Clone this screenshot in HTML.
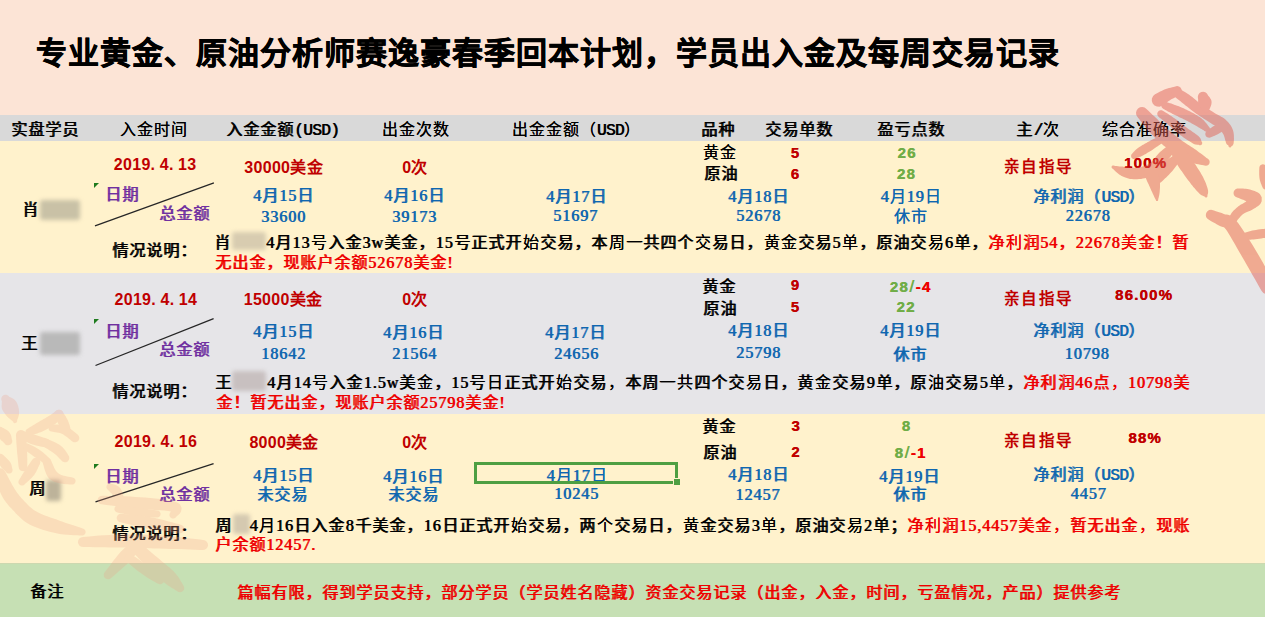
<!DOCTYPE html>
<html lang="zh-CN"><head><meta charset="utf-8"><title>学员出入金及每周交易记录</title>
<style>
*{margin:0;padding:0;box-sizing:border-box}
html,body{width:1265px;height:617px;overflow:hidden;background:#FFF2CC}
body{position:relative;font-family:"Liberation Serif",serif}
.bg{position:absolute;left:0;width:1265px}
.t,.title,.s,.s2,.z,.wm{position:absolute;white-space:nowrap}
.t{font-family:"Liberation Serif",serif;font-size:16px;line-height:16px;font-weight:normal;letter-spacing:1px;text-shadow:0.75px 0 0 currentColor}
.nw{font-weight:normal}
.title{font-family:"Liberation Sans",sans-serif;font-size:31px;line-height:31px;letter-spacing:1px;font-weight:bold;color:#000;-webkit-text-stroke:0.6px #000}
.s{font-family:"Liberation Sans",sans-serif;font-size:15px;line-height:15px;font-weight:bold;letter-spacing:1.2px;text-shadow:0.4px 0 0 currentColor}
.s2{font-family:"Liberation Sans",sans-serif;font-size:16px;line-height:16px;font-weight:bold;letter-spacing:0.3px}
.d{letter-spacing:4.7px}
.u2{font-size:17px;font-weight:normal;letter-spacing:1.5px;margin-left:0.5px}
.u{font-family:"Liberation Mono",monospace;font-size:16px;letter-spacing:-0.6px}
.z{font-family:"Liberation Sans",sans-serif;font-size:15.5px;line-height:15.5px;font-weight:bold;letter-spacing:1.5px}
.blur{position:absolute;filter:blur(2.2px);border-radius:3px}
.mk{position:absolute;width:0;height:0;border-top:5px solid #1E7B1E;border-right:5px solid transparent}
.ln{position:absolute;left:0;top:0}
.sel{position:absolute;left:474px;top:462px;width:204px;height:22px;border:3px solid #4E9F42}
.selh{position:absolute;left:674px;top:479px;width:6px;height:6px;background:#4E9F42;outline:1px solid #FFF2CC}
.wm{position:absolute;pointer-events:none}
</style></head>
<body>

<div class="bg" style="top:0;height:115px;background:#FCE4D6"></div>
<div class="bg" style="top:115px;height:26px;background:#D9D9D9"></div>
<div class="bg" style="top:141px;height:132px;background:#FFF2CC"></div>
<div class="bg" style="top:273px;height:141px;background:#E6E5E8"></div>
<div class="bg" style="top:414px;height:149px;background:#FFF2CC"></div>
<div class="bg" style="top:563px;height:54px;background:#C6E0B4"></div>
<div class="bg" style="top:563px;height:1px;background:#CDD8B0"></div>

<div id="e0" class="title" style="top:37.8px;color:#000;left:36px;">专业黄金、原油分析师赛逸豪春季回本计划，学员出入金及每周交易记录</div>
<div id="e1" class="t" style="top:122.0px;color:#000;left:11.2px;">实盘学员</div>
<div id="e2" class="t" style="top:122px;color:#000;left:93.5px;width:120px;text-align:center;">入金时间</div>
<div id="e3" class="t" style="top:122px;color:#000;left:212.5px;width:140px;text-align:center;">入金金额<span class="u">(USD)</span></div>
<div id="e4" class="t" style="top:122.0px;color:#000;left:355.5px;width:120px;text-align:center;">出金次数</div>
<div id="e5" class="t" style="top:122.0px;color:#000;left:511.7px;">出金金额（<span class="u">USD</span>）</div>
<div id="e6" class="t" style="top:122px;color:#000;left:701px;">品种</div>
<div id="e7" class="t" style="top:122px;color:#000;left:748.8px;width:100px;text-align:center;">交易单数</div>
<div id="e8" class="t" style="top:122px;color:#000;left:861.0px;width:100px;text-align:center;">盈亏点数</div>
<div id="e9" class="t" style="top:122px;color:#000;left:988.0px;width:100px;text-align:center;">主<span class="u">/</span>次</div>
<div id="e10" class="t" style="top:122px;color:#000;left:1084.0px;width:120px;text-align:center;">综合准确率</div>
<div id="e11" class="t" style="top:201.5px;color:#000;left:22px;">肖</div>
<div class="blur" style="left:40px;top:200px;width:40px;height:20px;background:#C9C1A6"></div>
<div class="blur" style="left:232px;top:232px;width:34px;height:18px;background:#D8CCB0"></div>
<div id="e14" class="s2" style="top:157.0px;color:#C00000;left:113.8px;">2019<span class="d">.</span>4<span class="d">.</span>13</div>
<div id="e15" class="s2" style="top:159.6px;color:#C00000;left:223.6px;width:120px;text-align:center;">30000美金</div>
<div id="e16" class="s2" style="top:159.6px;color:#C00000;left:375.0px;width:80px;text-align:center;">0次</div>
<div id="e17" class="t" style="top:144.5px;color:#000;left:702.6px;">黄金</div>
<div id="e18" class="t" style="top:165.5px;color:#000;left:703.8px;">原油</div>
<div id="e19" class="s" style="top:144.8px;color:#C00000;left:780.5px;width:30px;text-align:center;">5</div>
<div id="e20" class="s" style="top:166.3px;color:#C00000;left:780.5px;width:30px;text-align:center;">6</div>
<div id="e21" class="s" style="top:144.5px;color:#70AD47;left:867.0px;width:80px;text-align:center;">26</div>
<div id="e22" class="s" style="top:165.5px;color:#70AD47;left:866.4px;width:80px;text-align:center;">28</div>
<div id="e23" class="z" style="top:158.5px;color:#C00000;left:988.5px;width:100px;text-align:center;">亲自指导</div>
<div id="e24" class="s" style="top:154.5px;color:#C00000;left:1095.5px;width:100px;text-align:center;">100%</div>
<div class="mk" style="left:94px;top:183px"></div>
<div id="e26" class="t" style="top:186.5px;color:#7030A0;left:105.4px;">日期</div>
<div id="e27" class="t" style="top:205.5px;color:#7030A0;left:159.2px;">总金额</div>
<svg class="ln" width="1265" height="617"><line x1="95" y1="225.8" x2="213.9" y2="182.8" stroke="#262626" stroke-width="1.3"/></svg>
<div id="e29" class="t" style="top:187.9px;color:#0F67B0;left:213.5px;width:140px;text-align:center;">4月15日</div>
<div id="e30" class="t" style="top:208.5px;color:#0F67B0;left:213.5px;width:140px;text-align:center;">33600</div>
<div id="e31" class="t" style="top:187.9px;color:#0F67B0;left:344.6px;width:140px;text-align:center;">4月16日</div>
<div id="e32" class="t" style="top:208.5px;color:#0F67B0;left:344.5px;width:140px;text-align:center;">39173</div>
<div id="e33" class="t" style="top:188.5px;color:#0F67B0;left:506.6px;width:140px;text-align:center;">4月17日</div>
<div id="e34" class="t" style="top:207.5px;color:#0F67B0;left:505.6px;width:140px;text-align:center;">51697</div>
<div id="e35" class="t" style="top:188.5px;color:#0F67B0;left:688.6px;width:140px;text-align:center;">4月18日</div>
<div id="e36" class="t" style="top:207.5px;color:#0F67B0;left:688.5px;width:140px;text-align:center;">52678</div>
<div id="e37" class="t" style="top:188.5px;color:#0F67B0;left:841.0px;width:140px;text-align:center;">4月19日</div>
<div id="e38" class="t" style="top:209.0px;color:#0F67B0;left:840.5px;width:140px;text-align:center;">休市</div>
<div id="e39" class="t" style="top:188.5px;color:#0F67B0;left:1019.2px;width:140px;text-align:center;">净利润（<span class="u">USD</span>）</div>
<div id="e40" class="t" style="top:207.5px;color:#0F67B0;left:1018.0px;width:140px;text-align:center;">22678</div>
<div id="e41" class="t" style="top:243px;color:#000;left:112px;">情况说明：</div>
<div id="e42" class="t" style="top:234.5px;color:#000;left:214.3px;width:975px;text-align:justify;text-align-last:justify;">肖　　4月13号入金3w美金，15号正式开始交易，本周一共四个交易日，黄金交易5单，原油交易6单，<span style="color:#EE0000">净利润54，22678美金！暂</span></div>
<div id="e43" class="t" style="top:254.5px;color:#EE0000;left:215.0px;">无出金，现账户余额52678美金!</div>
<div id="e44" class="t nw" style="top:336.4px;color:#000;left:21px;">王</div>
<div class="blur" style="left:40px;top:332px;width:40px;height:23px;background:#B9B9B9"></div>
<div class="blur" style="left:232px;top:371px;width:34px;height:20px;background:#C8C0C0"></div>
<div id="e47" class="s2" style="top:292px;color:#C00000;left:114.5px;">2019<span class="d">.</span>4<span class="d">.</span>14</div>
<div id="e48" class="s2" style="top:292.2px;color:#C00000;left:223.0px;width:120px;text-align:center;">15000美金</div>
<div id="e49" class="s2" style="top:292.2px;color:#C00000;left:375.0px;width:80px;text-align:center;">0次</div>
<div id="e50" class="t" style="top:278.5px;color:#000;left:702.4px;">黄金</div>
<div id="e51" class="t" style="top:300.5px;color:#000;left:703.2px;">原油</div>
<div id="e52" class="s" style="top:276.9px;color:#C00000;left:780.5px;width:30px;text-align:center;">9</div>
<div id="e53" class="s" style="top:299.3px;color:#C00000;left:780.5px;width:30px;text-align:center;">5</div>
<div id="e54" class="s" style="top:279.3px;color:#70AD47;left:870.5px;width:80px;text-align:center;">28<span class="u2">/</span><span style="color:#EE0000">-4</span></div>
<div id="e55" class="s" style="top:299.3px;color:#70AD47;left:866.0px;width:80px;text-align:center;">22</div>
<div id="e56" class="z" style="top:291.3px;color:#C00000;left:988.5px;width:100px;text-align:center;">亲自指导</div>
<div id="e57" class="s" style="top:287.3px;color:#C00000;left:1094.0px;width:100px;text-align:center;">86.00%</div>
<div class="mk" style="left:94px;top:318.5px"></div>
<div id="e59" class="t" style="top:323.5px;color:#7030A0;left:105.4px;">日期</div>
<div id="e60" class="t" style="top:341.5px;color:#7030A0;left:159.0px;">总金额</div>
<svg class="ln" width="1265" height="617"><line x1="95.5" y1="365.5" x2="213.6" y2="318.7" stroke="#262626" stroke-width="1.3"/></svg>
<div id="e62" class="t" style="top:323.9px;color:#0F67B0;left:213.5px;width:140px;text-align:center;">4月15日</div>
<div id="e63" class="t" style="top:346px;color:#0F67B0;left:213.5px;width:140px;text-align:center;">18642</div>
<div id="e64" class="t" style="top:324.5px;color:#0F67B0;left:343.5px;width:140px;text-align:center;">4月16日</div>
<div id="e65" class="t" style="top:346px;color:#0F67B0;left:344.5px;width:140px;text-align:center;">21564</div>
<div id="e66" class="t" style="top:324.5px;color:#0F67B0;left:505.5px;width:140px;text-align:center;">4月17日</div>
<div id="e67" class="t" style="top:346px;color:#0F67B0;left:506.5px;width:140px;text-align:center;">24656</div>
<div id="e68" class="t" style="top:322.9px;color:#0F67B0;left:688.5px;width:140px;text-align:center;">4月18日</div>
<div id="e69" class="t" style="top:345.3px;color:#0F67B0;left:688.5px;width:140px;text-align:center;">25798</div>
<div id="e70" class="t" style="top:322.9px;color:#0F67B0;left:840.6px;width:140px;text-align:center;">4月19日</div>
<div id="e71" class="t" style="top:347.0px;color:#0F67B0;left:839.9px;width:140px;text-align:center;">休市</div>
<div id="e72" class="t" style="top:322.9px;color:#0F67B0;left:1019.0px;width:140px;text-align:center;">净利润（<span class="u">USD</span>）</div>
<div id="e73" class="t" style="top:346px;color:#0F67B0;left:1017.1px;width:140px;text-align:center;">10798</div>
<div id="e74" class="t" style="top:383.5px;color:#000;left:112px;">情况说明：</div>
<div id="e75" class="t" style="top:374.5px;color:#000;left:215.1px;width:975px;text-align:justify;text-align-last:justify;">王　　4月14号入金1.5w美金，15号日正式开始交易，本周一共四个交易日，黄金交易9单，原油交易5单，<span style="color:#EE0000">净利润46点，10798美</span></div>
<div id="e76" class="t" style="top:394.5px;color:#EE0000;left:216px;">金！暂无出金，现账户余额25798美金!</div>
<div id="e77" class="t" style="top:481.4px;color:#000;left:29.0px;">周</div>
<div class="blur" style="left:46px;top:480px;width:15px;height:21px;background:#BDB39A"></div>
<div class="blur" style="left:233px;top:514px;width:17px;height:20px;background:#D5C9B0"></div>
<div id="e80" class="s2" style="top:433.5px;color:#C00000;left:114.5px;">2019<span class="d">.</span>4<span class="d">.</span>16</div>
<div id="e81" class="s2" style="top:434.5px;color:#C00000;left:224.1px;width:120px;text-align:center;">8000美金</div>
<div id="e82" class="s2" style="top:434.5px;color:#C00000;left:375.0px;width:80px;text-align:center;">0次</div>
<div id="e83" class="t" style="top:418.5px;color:#000;left:702.4px;">黄金</div>
<div id="e84" class="t" style="top:445px;color:#000;left:703.2px;">原油</div>
<div id="e85" class="s" style="top:417.5px;color:#C00000;left:781.1px;width:30px;text-align:center;">3</div>
<div id="e86" class="s" style="top:443.5px;color:#C00000;left:781.0px;width:30px;text-align:center;">2</div>
<div id="e87" class="s" style="top:417.5px;color:#70AD47;left:866.5px;width:80px;text-align:center;">8</div>
<div id="e88" class="s" style="top:444.5px;color:#70AD47;left:870.5px;width:80px;text-align:center;">8<span class="u2">/</span><span style="color:#EE0000">-1</span></div>
<div id="e89" class="z" style="top:433px;color:#C00000;left:988.5px;width:100px;text-align:center;">亲自指导</div>
<div id="e90" class="s" style="top:430.3px;color:#C00000;left:1095.1px;width:100px;text-align:center;">88%</div>
<div class="mk" style="left:94px;top:464px"></div>
<div id="e92" class="t" style="top:468.5px;color:#7030A0;left:105.4px;">日期</div>
<div id="e93" class="t" style="top:486.5px;color:#7030A0;left:159.0px;">总金额</div>
<svg class="ln" width="1265" height="617"><line x1="95.5" y1="501.9" x2="213.6" y2="463.7" stroke="#262626" stroke-width="1.3"/></svg>
<div id="e95" class="t" style="top:467.9px;color:#0F67B0;left:213.5px;width:140px;text-align:center;">4月15日</div>
<div id="e96" class="t" style="top:487.3px;color:#0F67B0;left:212.8px;width:140px;text-align:center;">未交易</div>
<div id="e97" class="t" style="top:468.5px;color:#0F67B0;left:343.5px;width:140px;text-align:center;">4月16日</div>
<div id="e98" class="t" style="top:487.3px;color:#0F67B0;left:343.6px;width:140px;text-align:center;">未交易</div>
<div id="e99" class="t" style="top:468.3px;color:#0F67B0;left:507.0px;width:140px;text-align:center;">4月17日</div>
<div id="e100" class="t" style="top:486.1px;color:#0F67B0;left:506.5px;width:140px;text-align:center;">10245</div>
<div id="e101" class="t" style="top:467.0px;color:#0F67B0;left:688.5px;width:140px;text-align:center;">4月18日</div>
<div id="e102" class="t" style="top:486.5px;color:#0F67B0;left:687.7px;width:140px;text-align:center;">12457</div>
<div id="e103" class="t" style="top:468.5px;color:#0F67B0;left:839.5px;width:140px;text-align:center;">4月19日</div>
<div id="e104" class="t" style="top:486.9px;color:#0F67B0;left:839.9px;width:140px;text-align:center;">休市</div>
<div id="e105" class="t" style="top:466.8px;color:#0F67B0;left:1019.0px;width:140px;text-align:center;">净利润（<span class="u">USD</span>）</div>
<div id="e106" class="t" style="top:485.5px;color:#0F67B0;left:1018.6px;width:140px;text-align:center;">4457</div>
<div id="e107" class="t" style="top:525.5px;color:#000;left:112px;">情况说明：</div>
<div id="e108" class="t" style="top:517.5px;color:#000;left:215.0px;width:975px;text-align:justify;text-align-last:justify;">周　4月16日入金8千美金，16日正式开始交易，两个交易日，黄金交易3单，原油交易2单；<span style="color:#EE0000">净利润15,4457美金，暂无出金，现账</span></div>
<div id="e109" class="t" style="top:537px;color:#EE0000;left:215.0px;">户余额12457.</div>
<div class="sel"></div><div class="selh"></div>
<div id="e111" class="t" style="top:584px;color:#000;left:29.9px;">备注</div>
<div id="e112" class="t" style="top:584.5px;color:#EE0000;left:237px;">篇幅有限，得到学员支持，部分学员（学员姓名隐藏）资金交易记录（出金，入金，时间，亏盈情况，产品）提供参考</div>
<svg class="wm" style="left:0;top:0" width="1265" height="617" viewBox="0 0 1265 617"><g opacity="0.5" fill="rgb(225,98,86)"><path d="M1162.0,105.8 L1162.7,105.3 L1163.5,104.7 L1164.5,104.0 L1165.5,103.2 L1166.6,102.5 L1167.7,101.7 L1168.7,101.0 L1169.6,100.4 L1170.6,99.8 L1171.8,99.1 L1173.1,98.4 L1174.5,97.7 L1175.8,97.1 L1177.0,96.5 L1178.0,95.9 L1178.8,95.5 L1180.4,94.5 L1181.5,93.0 L1181.9,91.1 L1181.5,89.2 L1180.5,87.6 L1179.0,86.5 L1177.1,86.1 L1175.2,86.5 L1174.5,86.7 L1173.4,86.9 L1172.1,87.3 L1170.6,87.7 L1169.0,88.1 L1167.4,88.6 L1165.9,89.1 L1164.4,89.6 L1162.9,90.2 L1161.5,90.9 L1160.1,91.6 L1158.8,92.3 L1157.5,92.9 L1156.5,93.5 L1155.6,93.9 L1155.0,94.2 L1153.1,96.0 L1151.9,98.4 L1151.8,101.0 L1152.7,103.5 L1154.5,105.4 L1156.9,106.6 L1159.5,106.7Z"/><path d="M1173.4,95.7 L1174.2,96.3 L1175.1,97.0 L1176.2,97.9 L1177.5,98.9 L1178.8,100.0 L1180.2,101.1 L1181.5,102.2 L1182.8,103.2 L1184.1,104.2 L1185.5,105.4 L1187.0,106.5 L1188.5,107.8 L1190.0,109.0 L1191.6,110.3 L1193.3,111.5 L1194.9,112.8 L1196.6,113.9 L1198.3,115.1 L1200.0,116.2 L1201.7,117.3 L1203.4,118.4 L1205.1,119.4 L1206.7,120.4 L1208.2,121.4 L1209.8,122.5 L1211.3,123.4 L1212.8,124.4 L1214.2,125.2 L1215.4,126.1 L1216.5,126.8 L1217.5,127.6 L1218.3,128.3 L1219.1,129.0 L1219.9,129.7 L1220.5,130.4 L1221.1,131.1 L1221.7,131.8 L1222.2,132.5 L1222.7,133.2 L1223.1,134.0 L1223.6,134.8 L1224.0,135.8 L1224.4,137.1 L1224.8,138.5 L1225.2,139.9 L1225.6,141.2 L1225.9,142.5 L1226.3,143.5 L1226.6,144.1 L1227.0,144.5 L1227.3,144.8 L1227.6,144.9 L1227.9,145.1 L1228.2,145.3 L1228.3,145.6 L1228.5,145.9 L1228.6,146.5 L1228.9,147.0 L1229.3,147.3 L1229.9,147.5 L1230.5,147.4 L1231.0,147.1 L1231.3,146.7 L1231.5,146.1 L1231.7,146.0 L1231.9,146.0 L1232.3,145.8 L1232.6,145.4 L1233.0,144.9 L1233.3,144.2 L1233.6,143.4 L1233.7,142.5 L1233.8,141.5 L1233.9,140.3 L1234.0,138.8 L1233.9,137.2 L1233.9,135.4 L1233.7,133.6 L1233.4,131.8 L1232.9,130.0 L1232.3,128.5 L1231.6,127.1 L1230.9,125.7 L1230.0,124.4 L1229.0,123.2 L1228.0,122.0 L1226.9,120.9 L1225.7,119.7 L1224.3,118.6 L1222.8,117.6 L1221.2,116.7 L1219.7,115.8 L1218.2,115.0 L1216.7,114.2 L1215.3,113.4 L1213.8,112.6 L1212.3,111.6 L1210.7,110.6 L1209.0,109.6 L1207.4,108.5 L1205.7,107.4 L1204.1,106.4 L1202.6,105.3 L1201.1,104.2 L1199.6,103.2 L1198.1,102.0 L1196.7,100.8 L1195.2,99.6 L1193.7,98.3 L1192.2,97.1 L1190.7,95.9 L1189.2,94.8 L1187.6,93.8 L1186.1,92.8 L1184.5,91.8 L1183.0,90.9 L1181.6,90.1 L1180.4,89.4 L1179.3,88.8 L1178.6,88.3 L1176.9,87.6 L1175.2,87.6 L1173.6,88.2 L1172.3,89.4 L1171.6,91.1 L1171.6,92.8 L1172.2,94.4Z"/><path d="M1210.9,137.2 L1211.5,137.0 L1212.2,136.7 L1213.1,136.3 L1214.1,135.9 L1215.1,135.4 L1216.2,134.9 L1217.2,134.4 L1218.1,134.0 L1219.1,133.4 L1220.1,132.8 L1221.2,132.2 L1222.3,131.5 L1223.3,130.8 L1224.3,130.2 L1225.1,129.7 L1225.7,129.4 L1226.8,128.5 L1227.6,127.2 L1227.7,125.8 L1227.4,124.3 L1226.5,123.2 L1225.2,122.4 L1223.8,122.3 L1222.3,122.6 L1221.7,122.9 L1220.8,123.2 L1219.8,123.6 L1218.6,124.0 L1217.4,124.5 L1216.1,125.0 L1215.0,125.5 L1213.9,126.0 L1212.9,126.6 L1211.9,127.3 L1210.9,127.9 L1209.9,128.6 L1209.0,129.3 L1208.3,129.9 L1207.6,130.4 L1207.1,130.8 L1206.0,131.7 L1205.4,133.0 L1205.3,134.5 L1205.8,135.9 L1206.7,137.0 L1208.0,137.6 L1209.5,137.7Z"/><path d="M1198.0,98.7 L1198.1,99.3 L1198.1,100.0 L1198.1,100.8 L1198.1,101.7 L1198.1,102.6 L1198.2,103.4 L1198.3,104.1 L1198.5,104.7 L1198.7,105.2 L1199.1,105.8 L1199.6,106.4 L1200.2,107.0 L1200.7,107.6 L1201.3,108.2 L1201.8,108.8 L1202.3,109.3 L1202.7,109.8 L1203.1,110.3 L1203.6,110.8 L1204.0,111.3 L1204.4,111.8 L1204.7,112.3 L1205.0,112.7 L1205.3,113.0 L1205.3,113.3 L1205.5,113.5 L1205.7,113.7 L1206.0,113.7 L1206.3,113.7 L1206.5,113.5 L1206.7,113.3 L1206.7,113.0 L1207.0,112.7 L1207.3,112.4 L1207.7,111.9 L1208.1,111.4 L1208.6,110.8 L1209.0,110.2 L1209.4,109.4 L1209.7,108.7 L1210.1,107.9 L1210.4,107.0 L1210.8,106.2 L1211.1,105.2 L1211.4,104.3 L1211.5,103.3 L1211.6,102.3 L1211.5,101.3 L1211.3,100.3 L1210.9,99.3 L1210.3,98.4 L1209.8,97.6 L1209.2,96.8 L1208.7,96.2 L1208.2,95.7 L1208.0,95.3 L1206.9,93.5 L1205.3,92.3 L1203.3,91.8 L1201.3,92.0 L1199.5,93.1 L1198.3,94.7 L1197.8,96.7Z"/><path d="M1163.5,108.9 L1164.1,109.3 L1164.9,109.7 L1165.8,110.2 L1166.8,110.8 L1167.9,111.4 L1169.0,112.0 L1170.1,112.6 L1171.2,113.1 L1172.2,113.7 L1173.3,114.2 L1174.4,114.7 L1175.5,115.2 L1176.6,115.8 L1177.7,116.3 L1178.8,116.9 L1179.9,117.4 L1181.1,118.0 L1182.4,118.6 L1183.6,119.2 L1184.9,119.8 L1186.1,120.5 L1187.4,121.1 L1188.5,121.7 L1189.6,122.3 L1190.7,122.8 L1191.7,123.4 L1192.7,124.0 L1193.7,124.5 L1194.6,125.0 L1195.5,125.6 L1196.4,126.1 L1197.3,126.6 L1198.3,127.2 L1199.3,127.8 L1200.4,128.4 L1201.5,129.1 L1202.6,129.8 L1203.6,130.3 L1204.4,130.9 L1205.0,131.3 L1206.0,131.8 L1207.2,132.0 L1208.3,131.7 L1209.3,131.0 L1209.8,130.0 L1210.0,128.8 L1209.7,127.7 L1209.0,126.7 L1208.5,126.2 L1208.0,125.5 L1207.3,124.5 L1206.5,123.5 L1205.6,122.4 L1204.7,121.4 L1203.7,120.3 L1202.7,119.4 L1201.7,118.6 L1200.7,117.8 L1199.7,117.1 L1198.7,116.4 L1197.7,115.7 L1196.6,115.0 L1195.5,114.4 L1194.4,113.7 L1193.1,113.1 L1191.9,112.4 L1190.6,111.7 L1189.2,111.0 L1187.9,110.4 L1186.6,109.8 L1185.3,109.2 L1184.1,108.6 L1182.9,108.0 L1181.6,107.5 L1180.4,107.0 L1179.3,106.6 L1178.1,106.1 L1177.0,105.7 L1175.9,105.3 L1174.8,104.9 L1173.7,104.5 L1172.5,104.0 L1171.3,103.6 L1170.1,103.2 L1169.0,102.9 L1168.0,102.5 L1167.1,102.3 L1166.5,102.1 L1165.1,101.8 L1163.6,102.0 L1162.4,102.8 L1161.6,104.0 L1161.3,105.4 L1161.5,106.9 L1162.3,108.1Z"/><path d="M1137.5,117.0 L1138.2,117.9 L1139.1,119.1 L1140.2,120.6 L1141.5,122.2 L1142.8,123.9 L1144.1,125.6 L1145.5,127.3 L1146.8,128.9 L1148.1,130.3 L1149.3,131.7 L1150.6,133.2 L1151.9,134.6 L1153.3,136.1 L1154.8,137.6 L1156.4,139.1 L1158.0,140.6 L1159.8,142.2 L1161.6,143.8 L1163.5,145.4 L1165.5,147.0 L1167.5,148.6 L1169.6,150.2 L1171.6,151.7 L1173.7,153.1 L1175.8,154.5 L1177.8,155.8 L1179.9,157.0 L1181.9,158.2 L1183.9,159.2 L1185.9,160.2 L1187.9,161.1 L1189.8,162.0 L1191.9,162.7 L1194.1,163.3 L1196.2,163.9 L1198.3,164.3 L1200.3,164.7 L1202.0,165.0 L1203.4,165.2 L1204.5,165.4 L1205.9,165.7 L1207.3,165.5 L1208.6,164.7 L1209.4,163.5 L1209.7,162.1 L1209.5,160.7 L1208.7,159.4 L1207.5,158.6 L1206.6,157.9 L1205.4,157.0 L1204.1,156.0 L1202.6,154.8 L1200.9,153.6 L1199.3,152.4 L1197.7,151.2 L1196.2,150.0 L1194.6,148.9 L1192.9,147.8 L1191.1,146.7 L1189.3,145.6 L1187.6,144.4 L1185.8,143.3 L1184.0,142.1 L1182.3,140.9 L1180.5,139.6 L1178.7,138.2 L1176.9,136.7 L1175.0,135.2 L1173.1,133.7 L1171.3,132.2 L1169.6,130.8 L1168.0,129.4 L1166.5,128.1 L1165.1,126.8 L1163.8,125.5 L1162.5,124.3 L1161.2,123.0 L1159.9,121.7 L1158.5,120.4 L1157.2,119.1 L1155.8,117.8 L1154.3,116.3 L1152.7,114.9 L1151.2,113.4 L1149.7,112.1 L1148.4,110.8 L1147.3,109.8 L1146.5,109.0 L1144.6,107.6 L1142.3,107.0 L1140.0,107.3 L1138.0,108.5 L1136.6,110.4 L1136.0,112.7 L1136.3,115.0Z"/><path d="M1158.8,117.0 L1159.6,117.7 L1160.7,118.6 L1162.0,119.6 L1163.4,120.8 L1164.9,122.0 L1166.4,123.2 L1167.9,124.4 L1169.2,125.6 L1170.5,126.6 L1171.7,127.7 L1173.0,128.9 L1174.3,130.1 L1175.6,131.3 L1177.0,132.5 L1178.5,133.7 L1180.1,134.9 L1181.7,136.1 L1183.5,137.4 L1185.4,138.7 L1187.2,139.9 L1189.0,141.1 L1190.7,142.1 L1192.2,143.0 L1193.4,143.7 L1194.5,144.2 L1195.3,144.5 L1196.1,144.6 L1196.8,144.7 L1197.3,144.7 L1197.8,144.7 L1198.2,144.7 L1198.6,144.8 L1199.4,145.2 L1200.3,145.2 L1201.1,145.0 L1201.8,144.4 L1202.2,143.6 L1202.2,142.7 L1202.0,141.9 L1201.4,141.2 L1201.3,140.9 L1201.2,140.5 L1201.1,140.0 L1200.9,139.4 L1200.6,138.7 L1200.1,138.0 L1199.5,137.2 L1198.6,136.3 L1197.4,135.3 L1196.0,134.2 L1194.4,133.1 L1192.7,131.9 L1190.9,130.6 L1189.1,129.4 L1187.4,128.2 L1185.9,127.1 L1184.5,126.0 L1183.2,125.0 L1181.8,123.9 L1180.4,122.8 L1179.1,121.7 L1177.7,120.6 L1176.2,119.5 L1174.8,118.4 L1173.2,117.4 L1171.6,116.3 L1169.9,115.2 L1168.2,114.1 L1166.6,113.1 L1165.2,112.2 L1164.1,111.5 L1163.2,111.0 L1161.9,110.3 L1160.4,110.3 L1159.0,110.8 L1158.0,111.8 L1157.3,113.1 L1157.3,114.6 L1157.8,116.0Z"/><path d="M1158.1,136.8 L1157.3,137.2 L1156.2,137.7 L1154.9,138.4 L1153.5,139.1 L1152.0,139.8 L1150.5,140.6 L1149.0,141.4 L1147.7,142.1 L1146.4,142.9 L1145.1,143.6 L1143.7,144.4 L1142.4,145.1 L1141.1,145.9 L1139.8,146.7 L1138.7,147.4 L1137.6,148.2 L1136.7,148.9 L1135.8,149.7 L1135.0,150.5 L1134.3,151.3 L1133.6,152.0 L1133.1,152.6 L1132.7,153.1 L1132.3,153.5 L1131.5,154.3 L1131.1,155.4 L1131.1,156.6 L1131.5,157.7 L1132.3,158.5 L1133.4,158.9 L1134.6,158.9 L1135.7,158.5 L1136.2,158.3 L1136.9,158.1 L1137.6,157.8 L1138.5,157.5 L1139.4,157.1 L1140.4,156.7 L1141.4,156.3 L1142.4,155.8 L1143.4,155.2 L1144.6,154.6 L1145.8,153.9 L1147.1,153.1 L1148.4,152.3 L1149.8,151.5 L1151.1,150.7 L1152.3,149.9 L1153.6,149.0 L1155.0,148.1 L1156.4,147.1 L1157.7,146.2 L1159.0,145.2 L1160.2,144.4 L1161.2,143.7 L1161.9,143.2 L1163.0,142.2 L1163.6,140.9 L1163.7,139.4 L1163.2,138.1 L1162.2,137.0 L1160.9,136.4 L1159.4,136.3Z"/><path d="M1112.4,168.4 L1112.9,168.9 L1113.7,169.6 L1114.6,170.5 L1115.6,171.5 L1116.8,172.5 L1118.0,173.5 L1119.2,174.5 L1120.5,175.2 L1121.6,175.9 L1122.8,176.5 L1124.0,177.1 L1125.3,177.6 L1126.8,178.1 L1128.3,178.5 L1130.0,178.9 L1131.7,179.1 L1133.5,179.2 L1135.4,179.3 L1137.2,179.2 L1139.2,179.1 L1141.1,178.9 L1143.0,178.6 L1144.8,178.2 L1146.6,177.8 L1148.3,177.3 L1149.8,176.8 L1151.4,176.2 L1153.0,175.5 L1154.5,174.7 L1156.0,173.8 L1157.4,172.7 L1158.9,171.6 L1160.4,170.1 L1161.7,168.6 L1162.9,167.1 L1163.9,165.6 L1164.8,164.2 L1165.7,162.9 L1166.5,161.7 L1167.2,160.7 L1168.1,159.6 L1169.0,158.4 L1170.0,157.2 L1171.0,156.0 L1172.0,154.8 L1172.8,153.8 L1173.6,152.9 L1174.1,152.2 L1175.1,150.8 L1175.5,149.1 L1175.2,147.3 L1174.2,145.9 L1172.8,144.9 L1171.1,144.5 L1169.3,144.8 L1167.9,145.8 L1167.2,146.3 L1166.3,147.0 L1165.2,147.8 L1164.0,148.8 L1162.7,149.8 L1161.3,150.9 L1160.0,152.1 L1158.8,153.3 L1157.5,154.7 L1156.4,156.1 L1155.3,157.4 L1154.3,158.8 L1153.4,160.0 L1152.6,161.0 L1151.8,161.8 L1151.1,162.4 L1150.3,163.0 L1149.4,163.6 L1148.6,164.1 L1147.7,164.6 L1146.7,165.0 L1145.7,165.4 L1144.6,165.8 L1143.4,166.2 L1142.2,166.6 L1140.8,166.9 L1139.3,167.1 L1137.8,167.4 L1136.3,167.6 L1134.9,167.7 L1133.5,167.8 L1132.3,167.9 L1131.2,167.9 L1130.2,167.8 L1129.2,167.7 L1128.2,167.6 L1127.1,167.4 L1126.0,167.2 L1124.7,166.9 L1123.5,166.8 L1122.3,166.6 L1121.0,166.5 L1119.5,166.4 L1118.1,166.2 L1116.7,166.0 L1115.5,165.9 L1114.4,165.7 L1113.6,165.6 L1113.1,165.5 L1112.5,165.6 L1112.0,165.9 L1111.6,166.4 L1111.5,166.9 L1111.6,167.5 L1111.9,168.0Z"/><path d="M1161.9,181.5 L1162.7,180.8 L1163.7,179.8 L1164.9,178.6 L1166.2,177.4 L1167.6,176.0 L1168.9,174.7 L1170.2,173.3 L1171.4,172.1 L1172.4,170.9 L1173.5,169.5 L1174.7,168.1 L1175.8,166.6 L1176.8,165.3 L1177.8,164.0 L1178.6,163.0 L1179.2,162.2 L1180.1,160.7 L1180.5,159.0 L1180.2,157.3 L1179.2,155.8 L1177.7,154.9 L1176.0,154.5 L1174.3,154.8 L1172.8,155.8 L1172.1,156.4 L1171.0,157.2 L1169.7,158.1 L1168.3,159.1 L1166.9,160.2 L1165.4,161.4 L1163.9,162.6 L1162.6,163.9 L1161.4,165.2 L1160.1,166.7 L1158.9,168.2 L1157.7,169.8 L1156.5,171.2 L1155.5,172.6 L1154.7,173.7 L1154.1,174.5 L1153.0,176.3 L1152.8,178.3 L1153.3,180.3 L1154.5,181.9 L1156.3,183.0 L1158.3,183.2 L1160.3,182.7Z"/><path d="M1144.6,175.2 L1144.9,175.9 L1145.3,176.8 L1145.7,177.9 L1146.2,179.0 L1146.7,180.2 L1147.2,181.4 L1147.7,182.5 L1148.2,183.5 L1148.7,184.6 L1149.2,185.7 L1149.7,186.8 L1150.2,188.0 L1150.8,189.2 L1151.3,190.4 L1151.8,191.5 L1152.3,192.6 L1152.8,193.7 L1153.3,194.7 L1153.8,195.8 L1154.3,196.9 L1154.8,197.9 L1155.2,198.8 L1155.6,199.5 L1155.9,200.1 L1156.0,200.5 L1156.3,200.9 L1156.7,201.1 L1157.1,201.1 L1157.5,201.0 L1157.9,200.7 L1158.1,200.3 L1158.1,199.9 L1158.3,199.2 L1158.4,198.4 L1158.7,197.5 L1158.9,196.4 L1159.2,195.2 L1159.4,193.9 L1159.6,192.7 L1159.7,191.4 L1159.8,190.2 L1159.9,188.9 L1160.0,187.5 L1160.0,186.1 L1160.0,184.7 L1160.0,183.3 L1159.9,181.9 L1159.8,180.5 L1159.6,179.0 L1159.3,177.5 L1158.9,176.1 L1158.5,174.7 L1158.2,173.5 L1157.8,172.4 L1157.6,171.5 L1157.4,170.8 L1156.0,168.5 L1153.9,166.9 L1151.4,166.3 L1148.8,166.6 L1146.5,168.0 L1144.9,170.1 L1144.3,172.6Z"/><path d="M1168.1,147.3 L1168.7,148.4 L1169.4,149.9 L1170.3,151.7 L1171.3,153.7 L1172.4,155.9 L1173.5,158.0 L1174.5,160.0 L1175.6,161.9 L1176.6,163.6 L1177.7,165.3 L1178.7,166.9 L1179.7,168.4 L1180.7,169.9 L1181.8,171.3 L1182.8,172.7 L1183.8,174.2 L1184.8,175.7 L1185.9,177.2 L1187.0,178.7 L1188.1,180.2 L1189.2,181.6 L1190.3,183.0 L1191.3,184.4 L1192.3,185.6 L1193.3,186.9 L1194.4,188.1 L1195.4,189.3 L1196.4,190.5 L1197.4,191.5 L1198.4,192.6 L1199.3,193.5 L1200.1,194.2 L1200.8,194.8 L1201.5,195.2 L1202.2,195.6 L1202.8,195.8 L1203.3,196.1 L1203.9,196.3 L1204.3,196.5 L1204.6,196.6 L1205.0,197.1 L1205.5,197.4 L1206.1,197.5 L1206.6,197.4 L1207.1,197.0 L1207.4,196.5 L1207.5,195.9 L1207.4,195.4 L1207.5,195.0 L1207.6,194.6 L1207.8,194.1 L1208.0,193.4 L1208.1,192.7 L1208.1,191.8 L1208.1,190.8 L1207.9,189.8 L1207.6,188.6 L1207.3,187.4 L1206.8,186.0 L1206.3,184.5 L1205.8,183.0 L1205.1,181.5 L1204.4,179.9 L1203.7,178.4 L1202.9,176.8 L1202.0,175.2 L1201.1,173.7 L1200.2,172.1 L1199.2,170.5 L1198.2,168.9 L1197.2,167.4 L1196.2,165.8 L1195.2,164.3 L1194.2,162.8 L1193.3,161.3 L1192.3,159.9 L1191.3,158.4 L1190.3,157.0 L1189.4,155.5 L1188.4,154.1 L1187.3,152.5 L1186.2,150.6 L1184.9,148.7 L1183.7,146.8 L1182.5,144.9 L1181.5,143.2 L1180.6,141.8 L1179.9,140.7 L1178.2,138.7 L1175.8,137.5 L1173.2,137.3 L1170.7,138.1 L1168.7,139.8 L1167.5,142.2 L1167.3,144.8Z"/><path d="M1259.3,168.3 L1259.3,169.1 L1259.2,170.2 L1259.2,171.4 L1259.2,172.9 L1259.2,174.4 L1259.3,175.9 L1259.4,177.4 L1259.6,178.7 L1259.8,180.0 L1260.2,181.3 L1260.6,182.6 L1261.0,183.7 L1261.5,184.8 L1261.8,185.7 L1262.2,186.4 L1262.4,187.0 L1263.0,188.3 L1264.1,189.2 L1265.5,189.7 L1267.0,189.6 L1268.3,189.0 L1269.2,187.9 L1269.7,186.5 L1269.6,185.0 L1269.5,184.4 L1269.4,183.5 L1269.2,182.6 L1269.1,181.5 L1268.9,180.4 L1268.8,179.3 L1268.6,178.3 L1268.4,177.3 L1268.3,176.2 L1268.0,174.9 L1267.8,173.5 L1267.5,172.1 L1267.3,170.8 L1267.1,169.5 L1266.9,168.5 L1266.7,167.7 L1266.3,166.3 L1265.4,165.1 L1264.1,164.4 L1262.7,164.3 L1261.3,164.7 L1260.1,165.6 L1259.4,166.9Z"/><path d="M1237.1,197.4 L1237.8,197.7 L1238.7,198.0 L1239.8,198.4 L1240.9,198.9 L1242.1,199.4 L1243.2,199.8 L1244.2,200.3 L1245.2,200.7 L1246.4,201.2 L1247.8,201.7 L1249.1,202.1 L1250.3,202.5 L1251.2,202.8 L1251.7,203.0 L1251.3,202.7 L1250.3,200.8 L1250.3,198.1 L1250.8,197.1 L1250.8,197.1 L1250.4,197.6 L1249.7,198.3 L1248.9,199.1 L1247.9,199.9 L1247.0,200.7 L1246.3,201.3 L1245.5,201.9 L1244.5,202.5 L1243.4,203.2 L1242.2,203.9 L1240.9,204.6 L1239.6,205.5 L1238.4,206.3 L1237.3,207.2 L1236.3,208.0 L1235.4,208.9 L1234.5,209.7 L1233.6,210.6 L1232.8,211.5 L1232.1,212.3 L1231.4,213.3 L1230.7,214.4 L1230.0,215.6 L1229.5,216.8 L1229.0,217.9 L1228.6,219.0 L1228.2,219.9 L1227.9,220.7 L1227.7,221.2 L1227.3,222.6 L1227.4,224.1 L1228.1,225.4 L1229.2,226.3 L1230.6,226.7 L1232.1,226.6 L1233.4,225.9 L1234.3,224.8 L1234.7,224.2 L1235.1,223.5 L1235.7,222.7 L1236.3,221.8 L1236.9,220.9 L1237.5,220.1 L1238.1,219.3 L1238.6,218.7 L1239.2,218.0 L1239.7,217.4 L1240.3,216.7 L1240.9,216.0 L1241.5,215.4 L1242.2,214.8 L1242.9,214.2 L1243.6,213.7 L1244.4,213.2 L1245.3,212.8 L1246.4,212.3 L1247.6,211.8 L1248.9,211.3 L1250.3,210.7 L1251.7,210.1 L1253.0,209.3 L1254.1,208.6 L1255.3,207.9 L1256.5,207.1 L1257.8,206.2 L1259.1,205.2 L1260.5,203.7 L1261.7,201.2 L1261.7,197.2 L1259.9,194.1 L1257.9,192.6 L1256.2,191.7 L1254.6,191.0 L1253.0,190.4 L1251.4,190.0 L1250.0,189.6 L1248.8,189.3 L1247.4,189.0 L1245.9,188.8 L1244.4,188.7 L1243.0,188.6 L1241.6,188.6 L1240.5,188.6 L1239.6,188.6 L1238.9,188.6 L1237.1,188.6 L1235.5,189.2 L1234.3,190.5 L1233.6,192.1 L1233.6,193.9 L1234.2,195.5 L1235.5,196.7Z"/><path d="M1208.9,219.8 L1209.7,220.3 L1210.8,220.9 L1212.1,221.7 L1213.6,222.5 L1215.1,223.3 L1216.6,224.2 L1218.0,225.0 L1219.4,225.8 L1221.1,226.6 L1222.8,227.1 L1223.9,227.3 L1224.2,227.4 L1224.1,227.4 L1224.2,227.5 L1224.7,228.0 L1225.8,229.3 L1227.2,231.3 L1228.9,233.9 L1230.7,236.9 L1232.7,240.4 L1234.8,244.1 L1237.0,247.9 L1239.3,251.9 L1241.5,255.8 L1244.0,260.0 L1246.7,264.8 L1249.6,269.8 L1252.5,274.9 L1255.3,279.8 L1257.8,284.2 L1259.9,287.9 L1261.5,290.7 L1263.4,292.9 L1266.0,294.2 L1268.9,294.4 L1271.7,293.5 L1273.9,291.6 L1275.2,289.0 L1275.4,286.1 L1274.5,283.3 L1273.0,280.5 L1270.9,276.8 L1268.4,272.4 L1265.6,267.5 L1262.7,262.3 L1259.8,257.2 L1257.0,252.4 L1254.5,248.2 L1252.1,244.3 L1249.7,240.4 L1247.3,236.6 L1244.9,232.9 L1242.6,229.4 L1240.4,226.2 L1238.3,223.3 L1236.2,220.7 L1234.3,218.6 L1232.3,216.9 L1230.1,215.6 L1228.1,214.8 L1226.5,214.5 L1225.6,214.4 L1225.2,214.4 L1224.6,214.2 L1223.3,213.7 L1221.7,213.1 L1220.0,212.5 L1218.3,211.9 L1216.7,211.4 L1215.2,210.9 L1214.0,210.5 L1213.1,210.2 L1211.1,209.8 L1209.1,210.1 L1207.4,211.2 L1206.2,212.9 L1205.8,214.9 L1206.1,216.9 L1207.2,218.6Z"/><path d="M1241.5,240.0 L1242.4,239.9 L1243.7,239.9 L1245.1,239.9 L1246.8,239.8 L1248.5,239.8 L1250.3,239.7 L1252.0,239.6 L1253.7,239.4 L1255.4,239.3 L1257.3,239.0 L1259.4,238.7 L1261.4,238.4 L1263.3,238.1 L1265.1,237.9 L1266.5,237.6 L1267.6,237.5 L1269.3,236.9 L1270.6,235.7 L1271.4,234.1 L1271.5,232.4 L1270.9,230.7 L1269.7,229.4 L1268.1,228.6 L1266.4,228.5 L1265.3,228.7 L1263.8,228.9 L1262.1,229.1 L1260.1,229.3 L1258.1,229.6 L1256.0,229.9 L1254.1,230.2 L1252.3,230.6 L1250.6,230.9 L1248.9,231.4 L1247.2,231.9 L1245.5,232.4 L1243.9,232.9 L1242.6,233.4 L1241.4,233.8 L1240.5,234.0 L1239.4,234.5 L1238.6,235.3 L1238.1,236.3 L1238.0,237.5 L1238.5,238.6 L1239.3,239.4 L1240.3,239.9Z"/></g><g opacity="0.25" fill="rgb(238,160,135)"><path d="M1.8,401.2 L1.8,401.9 L1.8,402.7 L1.7,403.7 L1.7,404.7 L1.6,405.7 L1.6,406.8 L1.7,407.7 L1.9,408.6 L2.2,409.5 L2.7,410.5 L3.3,411.6 L4.0,412.6 L4.7,413.6 L5.5,414.6 L6.2,415.5 L6.9,416.3 L7.6,417.0 L8.4,417.7 L9.3,418.4 L10.1,419.1 L11.0,419.9 L11.8,420.5 L12.4,421.1 L12.9,421.6 L13.3,422.3 L13.9,422.9 L14.7,423.2 L15.6,423.1 L16.3,422.7 L16.9,422.1 L17.2,421.3 L17.1,420.4 L17.3,419.8 L17.6,419.1 L18.0,418.1 L18.4,417.0 L18.7,415.8 L19.0,414.4 L19.1,413.1 L19.1,411.7 L19.0,410.4 L18.8,409.0 L18.5,407.6 L18.2,406.3 L17.8,404.9 L17.3,403.7 L16.7,402.5 L16.1,401.4 L15.3,400.4 L14.4,399.5 L13.4,398.8 L12.3,398.2 L11.4,397.7 L10.5,397.3 L9.7,397.0 L9.2,396.8 L8.1,395.5 L6.5,394.8 L4.9,394.7 L3.3,395.3 L2.0,396.4 L1.3,398.0 L1.2,399.6Z"/><path d="M30.5,435.3 L31.3,435.1 L32.5,434.7 L33.9,434.4 L35.5,433.9 L37.2,433.4 L38.9,432.8 L40.7,432.2 L42.3,431.5 L43.9,430.8 L45.5,429.9 L47.2,429.0 L48.9,428.1 L50.5,427.1 L52.0,426.1 L53.5,425.1 L54.9,424.2 L56.2,423.2 L57.4,422.1 L58.5,421.1 L59.4,420.0 L60.3,419.1 L60.9,418.3 L61.5,417.7 L61.9,417.2 L62.9,415.9 L63.3,414.2 L63.1,412.5 L62.2,411.1 L60.9,410.1 L59.2,409.7 L57.5,409.9 L56.1,410.8 L55.5,411.2 L54.8,411.8 L54.0,412.4 L53.1,413.1 L52.1,413.8 L51.1,414.5 L50.1,415.2 L49.1,415.8 L48.0,416.5 L46.6,417.3 L45.2,418.2 L43.6,419.1 L42.1,419.9 L40.5,420.8 L39.1,421.7 L37.7,422.5 L36.3,423.3 L34.9,424.2 L33.4,425.1 L32.0,426.0 L30.6,426.8 L29.4,427.5 L28.3,428.2 L27.5,428.7 L26.4,429.5 L25.6,430.7 L25.4,432.1 L25.7,433.5 L26.5,434.6 L27.7,435.4 L29.1,435.6Z"/><path d="M55.1,415.9 L55.4,416.6 L55.7,417.5 L56.1,418.6 L56.6,419.8 L57.0,421.0 L57.5,422.2 L58.0,423.3 L58.5,424.3 L58.9,425.1 L59.4,426.0 L60.0,426.8 L60.5,427.6 L61.0,428.3 L61.4,429.0 L61.8,429.5 L62.1,429.9 L63.1,431.3 L64.6,432.1 L66.3,432.3 L67.9,431.9 L69.3,430.9 L70.1,429.4 L70.3,427.7 L69.9,426.1 L69.7,425.6 L69.5,424.9 L69.3,424.2 L69.0,423.4 L68.7,422.5 L68.3,421.6 L68.0,420.6 L67.5,419.7 L67.0,418.8 L66.4,417.7 L65.8,416.6 L65.1,415.5 L64.4,414.4 L63.8,413.5 L63.3,412.7 L62.9,412.1 L61.9,410.7 L60.4,409.9 L58.7,409.7 L57.1,410.1 L55.7,411.1 L54.9,412.6 L54.7,414.3Z"/><path d="M51.6,431.6 L52.6,431.8 L53.9,432.0 L55.3,432.2 L56.9,432.5 L58.4,432.8 L59.9,433.1 L61.2,433.6 L62.3,434.0 L63.3,434.6 L64.6,435.4 L66.1,436.4 L67.5,437.6 L68.9,438.7 L70.3,439.8 L71.4,440.7 L72.3,441.4 L73.8,442.2 L75.5,442.3 L77.1,441.8 L78.4,440.7 L79.2,439.2 L79.3,437.5 L78.8,435.9 L77.7,434.6 L76.9,434.0 L75.8,433.1 L74.5,431.9 L73.0,430.7 L71.3,429.4 L69.5,428.1 L67.7,427.0 L65.7,426.0 L63.7,425.3 L61.7,424.9 L59.7,424.7 L57.8,424.5 L56.0,424.5 L54.5,424.5 L53.3,424.4 L52.4,424.4 L51.0,424.5 L49.8,425.1 L48.8,426.2 L48.4,427.6 L48.5,429.0 L49.1,430.2 L50.2,431.2Z"/><path d="M15.9,435.3 L16.0,436.5 L16.1,438.0 L16.2,439.8 L16.3,441.8 L16.5,443.9 L16.6,446.1 L16.8,448.3 L16.9,450.3 L17.1,452.4 L17.4,454.8 L17.6,457.3 L17.9,459.7 L18.1,462.0 L18.3,464.2 L18.5,465.9 L18.7,467.3 L19.1,468.9 L20.1,470.2 L21.6,471.1 L23.3,471.3 L24.9,470.9 L26.2,469.9 L27.1,468.4 L27.3,466.7 L27.3,465.4 L27.3,463.6 L27.3,461.5 L27.3,459.2 L27.2,456.7 L27.2,454.2 L27.1,451.8 L27.1,449.7 L27.0,447.6 L26.8,445.4 L26.7,443.2 L26.5,441.1 L26.4,439.1 L26.3,437.3 L26.1,435.8 L26.1,434.7 L25.5,432.7 L24.3,431.2 L22.6,430.2 L20.7,429.9 L18.7,430.5 L17.2,431.7 L16.2,433.4Z"/><path d="M19.5,439.1 L20.6,439.5 L22.0,440.2 L23.8,440.9 L25.7,441.8 L27.7,442.6 L29.7,443.5 L31.7,444.2 L33.5,444.8 L35.1,445.3 L36.9,445.8 L38.6,446.1 L40.2,446.4 L41.7,446.7 L43.0,446.9 L44.1,447.1 L44.9,447.2 L46.6,447.3 L48.2,446.8 L49.5,445.6 L50.2,444.1 L50.3,442.4 L49.8,440.8 L48.6,439.5 L47.1,438.8 L46.3,438.5 L45.2,438.1 L44.0,437.7 L42.6,437.2 L41.1,436.7 L39.6,436.2 L38.0,435.7 L36.5,435.2 L34.9,434.7 L33.0,434.1 L31.0,433.5 L28.9,432.8 L27.0,432.2 L25.1,431.7 L23.6,431.3 L22.5,430.9 L20.8,430.7 L19.2,431.1 L17.8,432.1 L16.9,433.5 L16.7,435.2 L17.1,436.8 L18.1,438.2Z"/><path d="M43.9,446.8 L44.9,447.4 L46.2,448.2 L47.6,449.1 L49.3,450.2 L50.9,451.2 L52.5,452.3 L53.8,453.2 L54.9,454.0 L55.7,454.7 L56.6,455.5 L57.6,456.4 L58.5,457.4 L59.4,458.4 L60.3,459.3 L61.0,460.1 L61.6,460.7 L62.9,461.8 L64.5,462.3 L66.2,462.2 L67.7,461.4 L68.8,460.1 L69.3,458.5 L69.2,456.8 L68.4,455.3 L68.0,454.7 L67.5,453.8 L66.8,452.7 L66.0,451.5 L65.0,450.1 L63.9,448.7 L62.6,447.3 L61.1,446.0 L59.5,444.8 L57.7,443.8 L55.8,442.8 L53.9,441.8 L52.0,441.0 L50.4,440.3 L49.1,439.7 L48.1,439.2 L46.5,438.7 L44.8,438.8 L43.3,439.6 L42.2,440.9 L41.7,442.5 L41.8,444.2 L42.6,445.7Z"/><path d="M25.1,450.1 L25.9,450.7 L27.0,451.5 L28.3,452.4 L29.8,453.5 L31.3,454.6 L32.8,455.7 L34.2,456.7 L35.5,457.6 L36.7,458.4 L38.0,459.3 L39.4,460.2 L40.7,461.1 L41.9,461.9 L43.0,462.7 L44.0,463.3 L44.7,463.8 L46.0,464.5 L47.4,464.6 L48.8,464.2 L49.8,463.3 L50.5,462.0 L50.6,460.6 L50.2,459.2 L49.3,458.2 L48.6,457.6 L47.8,456.8 L46.8,455.8 L45.7,454.8 L44.5,453.7 L43.2,452.5 L41.8,451.4 L40.5,450.4 L39.0,449.5 L37.4,448.5 L35.8,447.6 L34.1,446.6 L32.5,445.8 L31.0,445.0 L29.8,444.4 L28.9,443.9 L27.6,443.4 L26.2,443.5 L24.9,444.0 L23.9,445.1 L23.4,446.4 L23.5,447.8 L24.0,449.1Z"/><path d="M32.2,459.8 L31.7,460.6 L31.0,461.6 L30.2,462.7 L29.3,464.0 L28.4,465.3 L27.5,466.6 L26.6,467.9 L25.8,469.1 L25.0,470.3 L24.1,471.8 L23.2,473.3 L22.2,474.8 L21.3,476.3 L20.5,477.7 L19.7,478.8 L19.2,479.7 L18.5,481.0 L18.4,482.4 L18.8,483.7 L19.7,484.8 L21.0,485.5 L22.4,485.6 L23.7,485.2 L24.8,484.3 L25.5,483.6 L26.5,482.7 L27.7,481.6 L29.0,480.4 L30.4,479.1 L31.8,477.7 L33.0,476.3 L34.2,474.9 L35.1,473.5 L36.1,471.9 L36.9,470.3 L37.7,468.8 L38.3,467.3 L38.9,466.0 L39.4,465.0 L39.8,464.2 L40.3,462.6 L40.2,460.9 L39.5,459.4 L38.2,458.2 L36.6,457.7 L34.9,457.8 L33.4,458.5Z"/><path d="M42.9,463.5 L43.2,464.5 L43.6,465.8 L44.0,467.5 L44.5,469.3 L45.2,471.3 L45.9,473.3 L46.8,475.2 L47.9,477.0 L49.1,478.4 L50.4,479.6 L51.8,480.5 L53.2,481.3 L54.5,481.9 L55.9,482.3 L57.2,482.7 L58.7,483.1 L60.3,483.5 L62.2,483.8 L64.1,484.1 L66.0,484.2 L67.7,484.3 L69.3,484.4 L70.6,484.5 L71.5,484.6 L72.9,484.5 L74.2,483.9 L75.1,482.8 L75.6,481.5 L75.5,480.1 L74.9,478.8 L73.8,477.9 L72.5,477.4 L71.5,477.2 L70.2,477.0 L68.7,476.7 L67.0,476.4 L65.4,476.1 L63.8,475.7 L62.4,475.3 L61.3,474.9 L60.3,474.4 L59.4,473.9 L58.6,473.4 L58.0,473.0 L57.4,472.5 L57.0,472.0 L56.5,471.5 L56.1,471.0 L55.6,470.3 L54.9,469.1 L54.2,467.7 L53.5,466.0 L52.8,464.4 L52.1,462.9 L51.5,461.5 L51.1,460.5 L50.2,459.0 L48.8,458.0 L47.1,457.7 L45.5,457.9 L44.0,458.8 L43.0,460.2 L42.7,461.9Z"/><path d="M-3.0,434.1 L-2.7,434.6 L-2.3,435.3 L-1.8,436.1 L-1.3,436.9 L-0.7,437.7 L-0.3,438.5 L0.2,439.2 L0.5,439.6 L0.8,440.0 L1.2,440.4 L1.7,440.8 L2.3,441.3 L2.9,441.8 L3.4,442.3 L3.9,442.8 L4.2,443.1 L5.3,444.4 L6.8,445.2 L8.5,445.3 L10.1,444.8 L11.4,443.7 L12.2,442.2 L12.3,440.5 L11.8,438.9 L11.7,438.5 L11.6,437.9 L11.5,437.2 L11.3,436.3 L11.1,435.4 L10.7,434.4 L10.2,433.4 L9.5,432.4 L8.7,431.5 L7.8,430.7 L6.9,430.1 L5.9,429.5 L5.0,428.9 L4.1,428.5 L3.5,428.1 L3.0,427.9 L1.6,427.0 L-0.1,426.7 L-1.7,427.0 L-3.1,428.0 L-4.0,429.4 L-4.3,431.1 L-4.0,432.7Z"/><path d="M-3.3,460.9 L-2.8,461.5 L-2.2,462.3 L-1.6,463.3 L-0.8,464.4 L-0.0,465.4 L0.7,466.5 L1.4,467.4 L1.9,468.0 L2.4,468.6 L2.9,469.1 L3.5,469.6 L4.0,470.1 L4.6,470.6 L5.1,471.0 L5.5,471.4 L5.8,471.8 L6.8,472.9 L8.0,473.5 L9.4,473.6 L10.8,473.2 L11.9,472.2 L12.5,471.0 L12.6,469.6 L12.2,468.2 L12.1,467.8 L12.0,467.3 L11.9,466.6 L11.7,465.8 L11.5,464.9 L11.1,463.9 L10.7,462.9 L10.1,462.0 L9.3,461.0 L8.4,460.0 L7.4,459.0 L6.4,458.0 L5.4,457.1 L4.5,456.3 L3.8,455.6 L3.3,455.1 L1.9,454.1 L0.3,453.7 L-1.4,453.9 L-2.9,454.7 L-3.9,456.1 L-4.3,457.7 L-4.1,459.4Z"/><path d="M-5.3,476.3 L-4.9,477.7 L-4.3,479.7 L-3.5,482.0 L-2.6,484.7 L-1.7,487.5 L-0.6,490.4 L0.5,493.1 L1.7,495.6 L2.9,497.7 L4.1,499.7 L5.4,501.5 L6.8,503.3 L8.2,505.0 L9.6,506.7 L11.2,508.3 L12.7,510.0 L14.3,511.6 L15.9,513.4 L17.7,515.2 L19.6,517.1 L21.7,519.0 L24.0,520.9 L26.6,522.7 L29.5,524.4 L32.6,525.9 L35.8,527.2 L39.2,528.5 L42.6,529.7 L46.1,530.8 L49.6,531.7 L53.0,532.5 L56.3,533.3 L59.7,533.9 L63.4,534.4 L67.0,534.7 L70.6,535.0 L74.0,535.2 L77.0,535.3 L79.4,535.4 L81.3,535.6 L82.7,535.6 L84.0,535.0 L85.0,534.0 L85.6,532.7 L85.6,531.3 L85.0,530.0 L84.0,529.0 L82.7,528.4 L80.9,527.8 L78.5,527.1 L75.6,526.1 L72.5,525.1 L69.2,524.0 L65.9,522.9 L62.7,521.8 L59.7,520.7 L56.7,519.6 L53.6,518.5 L50.4,517.4 L47.2,516.3 L44.2,515.2 L41.3,514.0 L38.7,512.8 L36.5,511.6 L34.6,510.5 L32.8,509.2 L31.1,507.8 L29.5,506.4 L28.0,504.9 L26.4,503.3 L24.8,501.7 L23.3,500.0 L21.8,498.5 L20.6,497.1 L19.4,495.7 L18.4,494.3 L17.3,492.9 L16.3,491.5 L15.3,490.0 L14.3,488.4 L13.2,486.6 L12.0,484.5 L10.7,482.1 L9.4,479.7 L8.2,477.3 L7.0,475.1 L6.1,473.2 L5.3,471.7 L4.1,469.9 L2.2,468.6 L-0.0,468.2 L-2.3,468.7 L-4.1,469.9 L-5.4,471.8 L-5.8,474.0Z"/><path d="M108.1,490.1 L108.6,490.5 L109.1,491.1 L109.8,491.7 L110.4,492.4 L111.1,493.1 L111.7,493.7 L112.1,494.3 L112.4,494.6 L112.7,494.9 L113.3,495.3 L113.9,495.9 L114.6,496.6 L115.3,497.2 L115.9,497.9 L116.5,498.4 L116.9,498.9 L117.9,499.9 L119.2,500.5 L120.6,500.6 L121.9,500.1 L122.9,499.1 L123.5,497.8 L123.6,496.4 L123.1,495.1 L122.9,494.6 L122.7,493.9 L122.5,493.0 L122.2,491.9 L121.7,490.8 L121.2,489.7 L120.5,488.5 L119.6,487.4 L118.5,486.5 L117.3,485.8 L116.2,485.3 L115.1,484.8 L114.0,484.5 L113.1,484.3 L112.4,484.1 L111.9,483.9 L110.6,483.4 L109.2,483.5 L107.9,484.1 L106.9,485.1 L106.4,486.4 L106.5,487.8 L107.1,489.1Z"/><path d="M101.7,504.3 L104.6,504.7 L108.6,505.2 L113.2,505.7 L118.4,506.4 L123.9,507.0 L129.4,507.6 L134.6,508.2 L139.5,508.8 L144.3,509.2 L149.4,509.6 L154.5,510.0 L159.5,510.3 L164.1,510.6 L168.1,511.0 L171.3,511.4 L173.2,511.7 L173.2,511.5 L172.4,509.7 L172.6,508.5 L172.7,508.8 L172.2,509.7 L171.4,510.8 L170.5,512.0 L169.9,513.1 L169.4,514.4 L169.5,515.8 L170.0,517.1 L171.1,518.1 L172.4,518.6 L173.8,518.5 L175.1,518.0 L176.1,516.9 L176.3,516.7 L177.1,516.1 L178.3,515.1 L179.7,513.7 L181.1,511.6 L181.7,508.1 L179.9,504.3 L176.8,502.3 L173.5,501.2 L169.7,500.4 L165.3,499.7 L160.5,499.1 L155.4,498.6 L150.3,498.1 L145.3,497.6 L140.5,497.2 L135.6,496.9 L130.3,496.6 L124.7,496.3 L119.2,496.1 L114.0,496.0 L109.2,495.9 L105.3,495.8 L102.3,495.7 L100.6,495.9 L99.2,496.7 L98.1,498.0 L97.7,499.7 L97.9,501.4 L98.7,502.8 L100.0,503.9Z"/><path d="M117.4,512.6 L119.0,512.9 L121.0,513.3 L123.5,513.8 L126.2,514.4 L129.1,514.9 L132.0,515.5 L134.8,515.9 L137.4,516.3 L140.0,516.6 L142.8,516.8 L145.6,517.0 L148.3,517.2 L150.9,517.3 L153.2,517.4 L155.2,517.5 L156.6,517.6 L158.0,517.5 L159.3,516.8 L160.2,515.7 L160.6,514.4 L160.5,513.0 L159.8,511.7 L158.7,510.8 L157.4,510.4 L155.9,510.2 L154.0,509.9 L151.7,509.6 L149.2,509.2 L146.5,508.8 L143.7,508.4 L141.1,508.0 L138.6,507.7 L136.0,507.4 L133.2,507.0 L130.3,506.7 L127.4,506.4 L124.7,506.1 L122.2,505.8 L120.1,505.6 L118.6,505.4 L117.1,505.5 L115.9,506.1 L114.9,507.1 L114.4,508.4 L114.5,509.9 L115.1,511.1 L116.1,512.1Z"/><path d="M120.3,522.3 L122.5,522.8 L125.4,523.5 L128.9,524.3 L132.8,525.2 L136.9,526.2 L141.0,527.1 L145.1,527.9 L148.9,528.7 L152.8,529.4 L157.0,530.1 L161.4,530.7 L165.8,531.4 L169.9,532.0 L173.6,532.5 L176.8,532.9 L179.1,533.3 L180.8,533.3 L182.4,532.6 L183.6,531.4 L184.3,529.9 L184.3,528.2 L183.6,526.6 L182.4,525.4 L180.9,524.7 L178.6,524.1 L175.5,523.3 L171.9,522.3 L167.8,521.2 L163.6,520.1 L159.2,519.1 L155.0,518.1 L151.1,517.3 L147.1,516.6 L143.0,516.0 L138.7,515.5 L134.5,515.0 L130.5,514.6 L127.0,514.3 L124.0,514.0 L121.7,513.7 L120.0,513.8 L118.5,514.5 L117.3,515.7 L116.7,517.3 L116.8,519.0 L117.5,520.5 L118.7,521.7Z"/><path d="M83.2,547.1 L86.0,547.1 L89.8,547.1 L94.2,547.2 L99.2,547.2 L104.5,547.3 L109.8,547.4 L115.1,547.4 L120.0,547.5 L124.8,547.6 L129.6,547.7 L134.5,547.8 L139.5,548.0 L144.4,548.1 L149.5,548.2 L154.6,548.4 L159.7,548.5 L165.1,548.7 L171.1,548.9 L177.4,549.1 L183.6,549.3 L189.5,549.6 L194.8,549.8 L199.3,549.9 L202.6,550.1 L204.6,549.8 L206.3,548.8 L207.5,547.3 L208.1,545.4 L207.8,543.4 L206.8,541.7 L205.3,540.5 L203.4,539.9 L200.1,539.6 L195.6,539.1 L190.3,538.4 L184.4,537.8 L178.2,537.1 L172.0,536.5 L165.9,535.9 L160.3,535.5 L155.1,535.2 L150.0,534.9 L144.9,534.7 L139.8,534.5 L134.8,534.4 L129.8,534.4 L124.9,534.4 L120.0,534.5 L114.9,534.6 L109.5,534.9 L104.1,535.3 L98.8,535.6 L93.8,536.0 L89.4,536.4 L85.7,536.7 L82.8,536.9 L80.9,537.4 L79.3,538.5 L78.3,540.2 L77.9,542.2 L78.4,544.1 L79.5,545.7 L81.2,546.7Z"/><path d="M131.7,541.1 L130.8,542.0 L129.5,543.2 L128.0,544.6 L126.4,546.2 L124.6,547.9 L122.8,549.7 L121.0,551.6 L119.2,553.5 L117.4,555.7 L115.4,558.2 L113.3,560.8 L111.3,563.6 L109.3,566.2 L107.5,568.6 L106.0,570.5 L104.8,572.0 L103.9,573.5 L103.7,575.1 L104.0,576.8 L105.0,578.2 L106.5,579.1 L108.1,579.3 L109.8,579.0 L111.2,578.0 L112.6,576.8 L114.5,575.2 L116.7,573.2 L119.2,571.1 L121.8,568.8 L124.4,566.6 L126.7,564.4 L128.8,562.5 L130.6,560.6 L132.4,558.6 L134.0,556.6 L135.6,554.7 L137.1,552.9 L138.4,551.3 L139.4,550.0 L140.3,548.9 L141.4,547.0 L141.8,544.8 L141.3,542.6 L139.9,540.7 L138.0,539.6 L135.8,539.2 L133.6,539.7Z"/><path d="M132.0,551.2 L133.4,552.7 L135.3,554.8 L137.6,557.2 L140.1,559.9 L142.7,562.7 L145.3,565.5 L147.8,568.1 L150.1,570.4 L152.2,572.4 L154.3,574.3 L156.3,576.1 L158.2,577.7 L160.1,579.3 L161.8,580.8 L163.5,582.1 L165.1,583.3 L166.7,584.5 L168.4,585.7 L170.1,586.8 L171.8,587.9 L173.4,588.8 L174.8,589.7 L176.0,590.5 L176.9,591.0 L178.3,592.0 L180.0,592.3 L181.6,592.0 L183.0,591.1 L184.0,589.7 L184.3,588.0 L184.0,586.4 L183.1,585.0 L182.6,584.0 L181.9,582.8 L181.0,581.4 L180.1,579.8 L179.0,578.0 L177.8,576.2 L176.4,574.4 L174.9,572.7 L173.3,571.0 L171.6,569.4 L169.8,567.8 L167.9,566.3 L166.0,564.7 L164.0,563.1 L162.0,561.4 L159.9,559.6 L157.5,557.6 L154.9,555.4 L152.0,552.9 L149.1,550.5 L146.3,548.1 L143.7,545.9 L141.6,544.1 L140.0,542.8 L138.1,541.6 L135.9,541.2 L133.7,541.7 L131.8,543.0 L130.6,544.9 L130.2,547.1 L130.7,549.3Z"/><path d="M126.4,561.5 L127.6,562.5 L129.2,563.8 L131.1,565.4 L133.2,567.2 L135.4,569.0 L137.7,570.9 L140.0,572.6 L142.1,574.1 L144.2,575.6 L146.4,577.0 L148.7,578.4 L150.9,579.7 L153.0,580.9 L154.9,582.0 L156.4,582.9 L157.6,583.6 L159.2,584.3 L160.9,584.3 L162.4,583.6 L163.6,582.4 L164.3,580.8 L164.3,579.1 L163.6,577.6 L162.4,576.4 L161.3,575.5 L159.8,574.5 L158.1,573.2 L156.1,571.8 L154.1,570.3 L152.0,568.7 L149.9,567.3 L147.9,565.9 L145.9,564.4 L143.7,562.9 L141.3,561.2 L138.9,559.6 L136.7,558.0 L134.6,556.6 L132.9,555.4 L131.6,554.5 L130.1,553.8 L128.4,553.7 L126.8,554.2 L125.5,555.4 L124.8,556.9 L124.7,558.6 L125.2,560.2Z"/></g></svg>
</body></html>
